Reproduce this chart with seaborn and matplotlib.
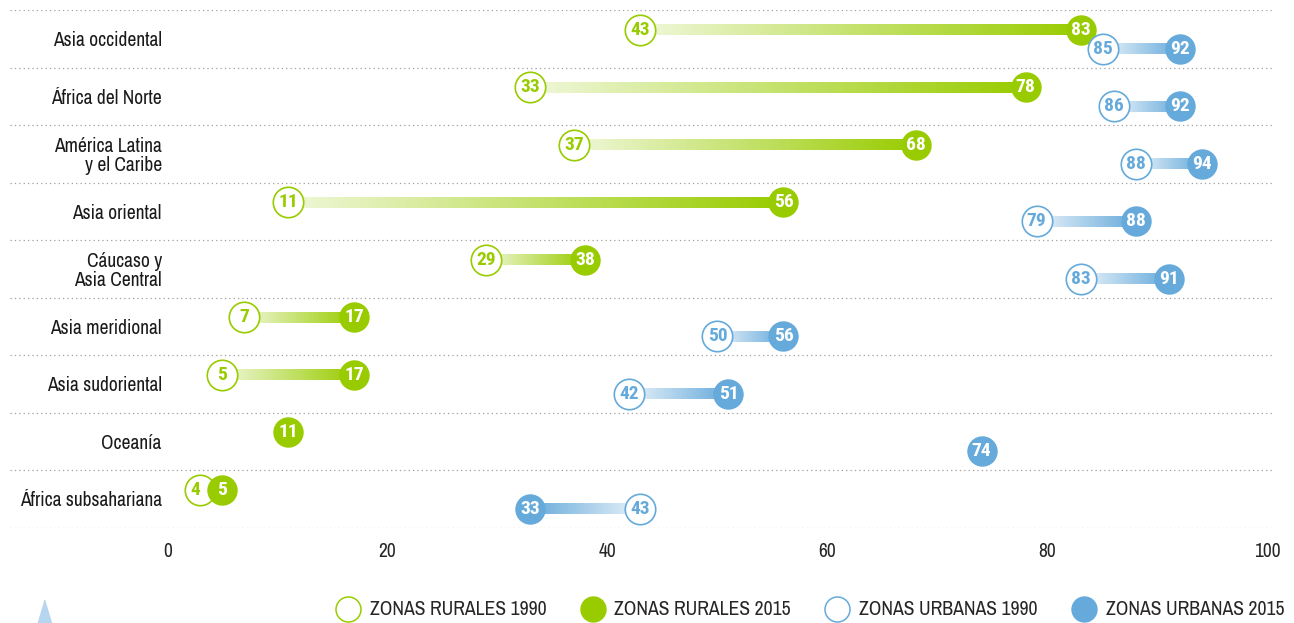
import numpy as np
import pandas as pd
import seaborn as sns
import matplotlib.pyplot as plt
from matplotlib.colors import LinearSegmentedColormap, to_rgb
from matplotlib.lines import Line2D

# data
regions = ["Asia occidental", "África del Norte", "América Latina\ny el Caribe",
           "Asia oriental", "Cáucaso y\nAsia Central", "Asia meridional",
           "Asia sudoriental", "Oceanía", "África subsahariana"]
rural_1990 = [43, 33, 37, 11, 29, 7, 5, np.nan, 4]
rural_2015 = [83, 78, 68, 56, 38, 17, 17, 11, 5]
urban_1990 = [85, 86, 88, 79, 83, 50, 42, np.nan, 43]
urban_2015 = [92, 92, 94, 88, 91, 56, 51, 74, 33]
x_ticks = [0, 20, 40, 60, 80, 100]

green = "#99CC00"
blue = "#66AADB"

sns.set_style("white")
plt.rcParams['font.family'] = ['Archivo Narrow', 'DejaVu Sans']
num_font = ['Roboto Condensed', 'Fira Sans Condensed', 'DejaVu Sans']

df = pd.DataFrame({"region": regions, "r90": rural_1990, "r15": rural_2015,
                   "u90": urban_1990, "u15": urban_2015})
df["pos"] = np.arange(len(df))
df["y_rural"] = df["pos"] - 0.16
df["y_urban"] = df["pos"] + 0.17

# nudge the 1990 circle left when it would be hidden under the 2015 one
for a, b in [("r90", "r15"), ("u90", "u15")]:
    close = (df[b] - df[a]).abs() < 2.5
    df[a + "_x"] = np.where(close, df[b] - 2, df[a])

fig = plt.figure(figsize=(12.94, 6.23), dpi=100)
ax = fig.add_axes([10 / 1294, 1 - 528 / 623, 1262 / 1294, 518 / 623])
ax.set_xlim(-14.3, 100.4)
ax.set_ylim(len(df) - 0.5, -0.5)


def light(c, amt=0.85):
    r = np.array(to_rgb(c))
    return tuple(r + (1 - r) * amt)


def gradient_bar(x0, x1, y, col, h=0.095):
    if np.isnan(x0) or np.isnan(x1):
        return
    cmap = LinearSegmentedColormap.from_list("g", [light(col), col])
    grad = np.linspace(0, 1, 256).reshape(1, -1)
    if x1 < x0:
        grad = grad[:, ::-1]
    ax.imshow(grad, cmap=cmap, aspect="auto", zorder=1,
              extent=[min(x0, x1), max(x0, x1), y + h, y - h], interpolation="bilinear")


for _, row in df.iterrows():
    gradient_bar(row["r90_x"], row["r15"], row["y_rural"], green)
    gradient_bar(row["u90_x"], row["u15"], row["y_urban"], blue)

ms = 480
sns.scatterplot(data=df, x="r90_x", y="y_rural", ax=ax, s=ms, color=green,
                facecolor="white", edgecolor=green, linewidth=1.2, zorder=3)
sns.scatterplot(data=df, x="r15", y="y_rural", ax=ax, s=ms, color=green,
                edgecolor=green, linewidth=0, zorder=4)
sns.scatterplot(data=df, x="u90_x", y="y_urban", ax=ax, s=ms, color=blue,
                facecolor="white", edgecolor=blue, linewidth=1.2, zorder=5)
sns.scatterplot(data=df, x="u15", y="y_urban", ax=ax, s=ms, color=blue,
                edgecolor=blue, linewidth=0, zorder=6)

for _, row in df.iterrows():
    for col, xcol, ycol, tc, z in [("r90", "r90_x", "y_rural", green, 3),
                                   ("r15", "r15", "y_rural", "white", 4),
                                   ("u90", "u90_x", "y_urban", blue, 5),
                                   ("u15", "u15", "y_urban", "white", 6)]:
        v = row[col]
        if not np.isnan(v):
            xo = row[xcol]
            # when dodged, keep the old value's digit in the visible part of its circle
            shift = -0.5 if xo != v else 0
            ax.text(xo + shift, row[ycol], f"{int(v)}", ha="center", va="center", color=tc,
                    fontsize=14, fontweight="bold", family=num_font, zorder=z + 0.5)
    ax.text(-0.5, row["pos"] + 0.03, row["region"], ha="right", va="center",
            fontsize=14, color="#1a1a1a", linespacing=1.0)

# dotted row separators
for b in np.arange(len(df) + 1) - 0.5:
    ax.axhline(b, color="#a0a0a0", linestyle=(0, (1, 2.5)), linewidth=0.9, zorder=0)

sns.despine(ax=ax, left=True, bottom=True)
ax.set_yticks([])
ax.set_xticks(x_ticks)
ax.set_xticklabels([str(t) for t in x_ticks], fontsize=14)
ax.tick_params(axis="x", length=0, pad=10)
ax.set_xlabel("")
ax.set_ylabel("")

handles = [
    Line2D([], [], marker="o", linestyle="", markersize=18, markerfacecolor="white",
           markeredgecolor=green, markeredgewidth=1.1),
    Line2D([], [], marker="o", linestyle="", markersize=18, markerfacecolor=green,
           markeredgecolor=green),
    Line2D([], [], marker="o", linestyle="", markersize=18, markerfacecolor="white",
           markeredgecolor=blue, markeredgewidth=1.1),
    Line2D([], [], marker="o", linestyle="", markersize=18, markerfacecolor=blue,
           markeredgecolor=blue),
]
labels = ["ZONAS RURALES 1990", "ZONAS RURALES 2015",
          "ZONAS URBANAS 1990", "ZONAS URBANAS 2015"]
fig.legend(handles, labels, loc="center right", bbox_to_anchor=(1.0, 0.021),
           ncol=4, frameon=False, fontsize=14.2, handlelength=1.2, borderpad=0,
           handletextpad=0.5, columnspacing=1.75)

# small decorative triangle at the bottom left
fig.add_artist(Line2D([44 / 1294], [0.5 / 623], marker=[(-0.6, -1), (0.6, -1), (0, 1)],
                      markersize=34, color="#b5d5f0", transform=fig.transFigure,
                      linestyle=""))

fig.savefig("out.png", dpi=100)
